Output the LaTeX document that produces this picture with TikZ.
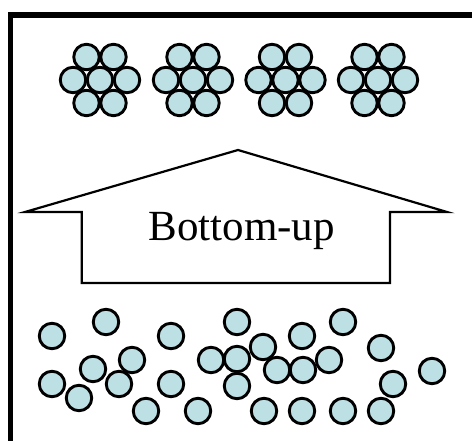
\documentclass[tikz,border=0pt]{standalone}
\usepackage{fontspec}
\setmainfont{Liberation Serif}
\definecolor{ball}{HTML}{BDE0E4}
\begin{document}
\begin{tikzpicture}[x=1pt,y=-1pt,
  ball/.style={circle,draw=black,fill=ball,line width=2.9pt,minimum size=25.5pt,inner sep=0pt},
  frameline/.style={line width=5.5pt,line cap=butt},
  arrowline/.style={line width=2.2pt,line join=miter}]
\useasboundingbox (0,0) rectangle (472,441);
% frame
\coordinate (ftl) at (10.7,15);
\coordinate (ftr) at (472,15);
\coordinate (fbl) at (10.7,441);
\draw[frameline] (fbl) -- (ftl) -- (ftr);
% top clusters
\foreach \c/\cx in {1/100,2/193,3/285.5,4/378}{
  \node[ball] (c\c a) at (\cx-13.5,57) {};
  \node[ball] (c\c b) at (\cx+13.5,57) {};
  \node[ball] (c\c c) at (\cx-27,80) {};
  \node[ball] (c\c d) at (\cx,80) {};
  \node[ball] (c\c e) at (\cx+27,80) {};
  \node[ball] (c\c f) at (\cx-13.5,103) {};
  \node[ball] (c\c g) at (\cx+13.5,103) {};
}
% arrow
\coordinate (apex) at (238,150);
\coordinate (wl) at (25,212);
\coordinate (wr) at (447,212);
\coordinate (bl) at (81.7,212);
\coordinate (br) at (390,212);
\coordinate (bbl) at (81.7,283);
\coordinate (bbr) at (390,283);
\draw[arrowline] (apex) -- (wr) -- (br) -- (bbr) -- (bbl) -- (bl) -- (wl) -- cycle;
\node[anchor=base,inner sep=0pt,font=\fontsize{43}{50}\selectfont] (label) at (241.7,240.7) {Bottom-up};
% scattered particles
\foreach \i/\px/\py in {
  1/52/336, 2/106/322, 3/171/336, 4/237/322, 5/302/336, 6/343/322, 7/381/348,
  8/432/371, 10/132/360, 9/93/369, 11/52/384, 12/79/398, 13/119/384, 14/171/384,
  15/146/411, 16/198/411, 17/211/360, 19/263/347, 18/237/359, 20/237/386,
  21/277/370, 22/303/370, 23/329/360, 24/393/384, 25/264/411, 26/302/411,
  27/343/411, 28/381/411}{
  \node[ball] (p\i) at (\px,\py) {};
}
\end{tikzpicture}
\end{document}
